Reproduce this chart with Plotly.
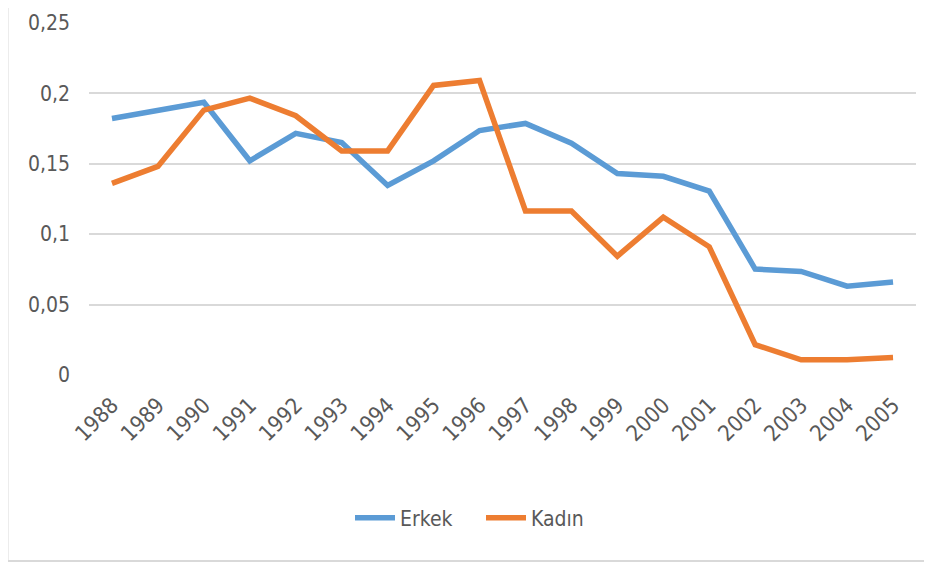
import plotly.graph_objects as go

years = [str(y) for y in range(1988, 2006)]
erkek = [0.182, 0.188, 0.1935, 0.152, 0.1715, 0.165, 0.1345, 0.152, 0.1735, 0.1785,
         0.1645, 0.143, 0.141, 0.1305, 0.0752, 0.0735, 0.063, 0.066]
kadin = [0.136, 0.148, 0.188, 0.1965, 0.184, 0.159, 0.159, 0.2055, 0.209, 0.1164,
         0.1164, 0.0843, 0.112, 0.091, 0.0215, 0.0108, 0.0108, 0.0125]
y_ticks = [0, 0.05, 0.1, 0.15, 0.2, 0.25]
y_tick_labels = ["0", "0,05", "0,1", "0,15", "0,2", "0,25"]

FONT = "Liberation Sans Narrow, DejaVu Sans Condensed, Open Sans, sans-serif"
GRAY = "#595959"

# page offset (body margin) of 8px
OFF = 8
PL, PR, PT, PB = 89, 916, 22, 375  # plot area in page pixels
W_PLOT = PR - PL
H_PLOT = PB - PT

fig = go.Figure()
fig.add_trace(go.Scatter(x=years, y=erkek, mode="lines", name="Erkek",
                         line=dict(color="#5B9BD5", width=5.5)))
fig.add_trace(go.Scatter(x=years, y=kadin, mode="lines", name="Kadın",
                         line=dict(color="#ED7D31", width=5.5)))

fig.update_layout(
    template="none",
    width=932, height=563, autosize=False,
    margin=dict(l=PL - OFF, r=932 - (PR - OFF), t=PT - OFF, b=563 - (PB - OFF),
                autoexpand=False),
    paper_bgcolor="white", plot_bgcolor="white",
    font=dict(family=FONT, size=21, color=GRAY),
    showlegend=True,
    legend=dict(orientation="h", x=(350 - PL) / W_PLOT, xanchor="left",
                y=(PB - 518) / H_PLOT, yanchor="middle",
                font=dict(family=FONT, size=21, color=GRAY),
                bgcolor="rgba(0,0,0,0)", itemwidth=40,
                entrywidth=76, entrywidthmode="pixels"),
    xaxis=dict(type="category", range=[-0.5, 17.5], showgrid=False, showline=False,
               zeroline=False, ticks="", tickangle=-45, automargin=False,
               ticklabelstandoff=12,
               tickfont=dict(family=FONT, size=22, color=GRAY)),
    yaxis=dict(range=[0, 0.2505], tickvals=y_ticks, ticktext=y_tick_labels,
               showgrid=True, gridcolor="#D9D9D9", gridwidth=1.5, zeroline=False,
               showline=False, ticks="", ticklabelstandoff=18, automargin=False,
               tickfont=dict(family=FONT, size=21, color=GRAY)),
    shapes=[
        dict(type="line", xref="paper", yref="paper",
             x0=(7.5 - PL) / W_PLOT, x1=(7.5 - PL) / W_PLOT,
             y0=(PB - 561) / H_PLOT, y1=(PB + 10) / H_PLOT,
             line=dict(color="#D9D9D9", width=2)),
        dict(type="line", xref="paper", yref="paper",
             x0=(7.5 - PL) / W_PLOT, x1=(940 - PL) / W_PLOT,
             y0=(PB - 561) / H_PLOT, y1=(PB - 561) / H_PLOT,
             line=dict(color="#D9D9D9", width=2)),
    ],
)

fig.write_html("out.html")
